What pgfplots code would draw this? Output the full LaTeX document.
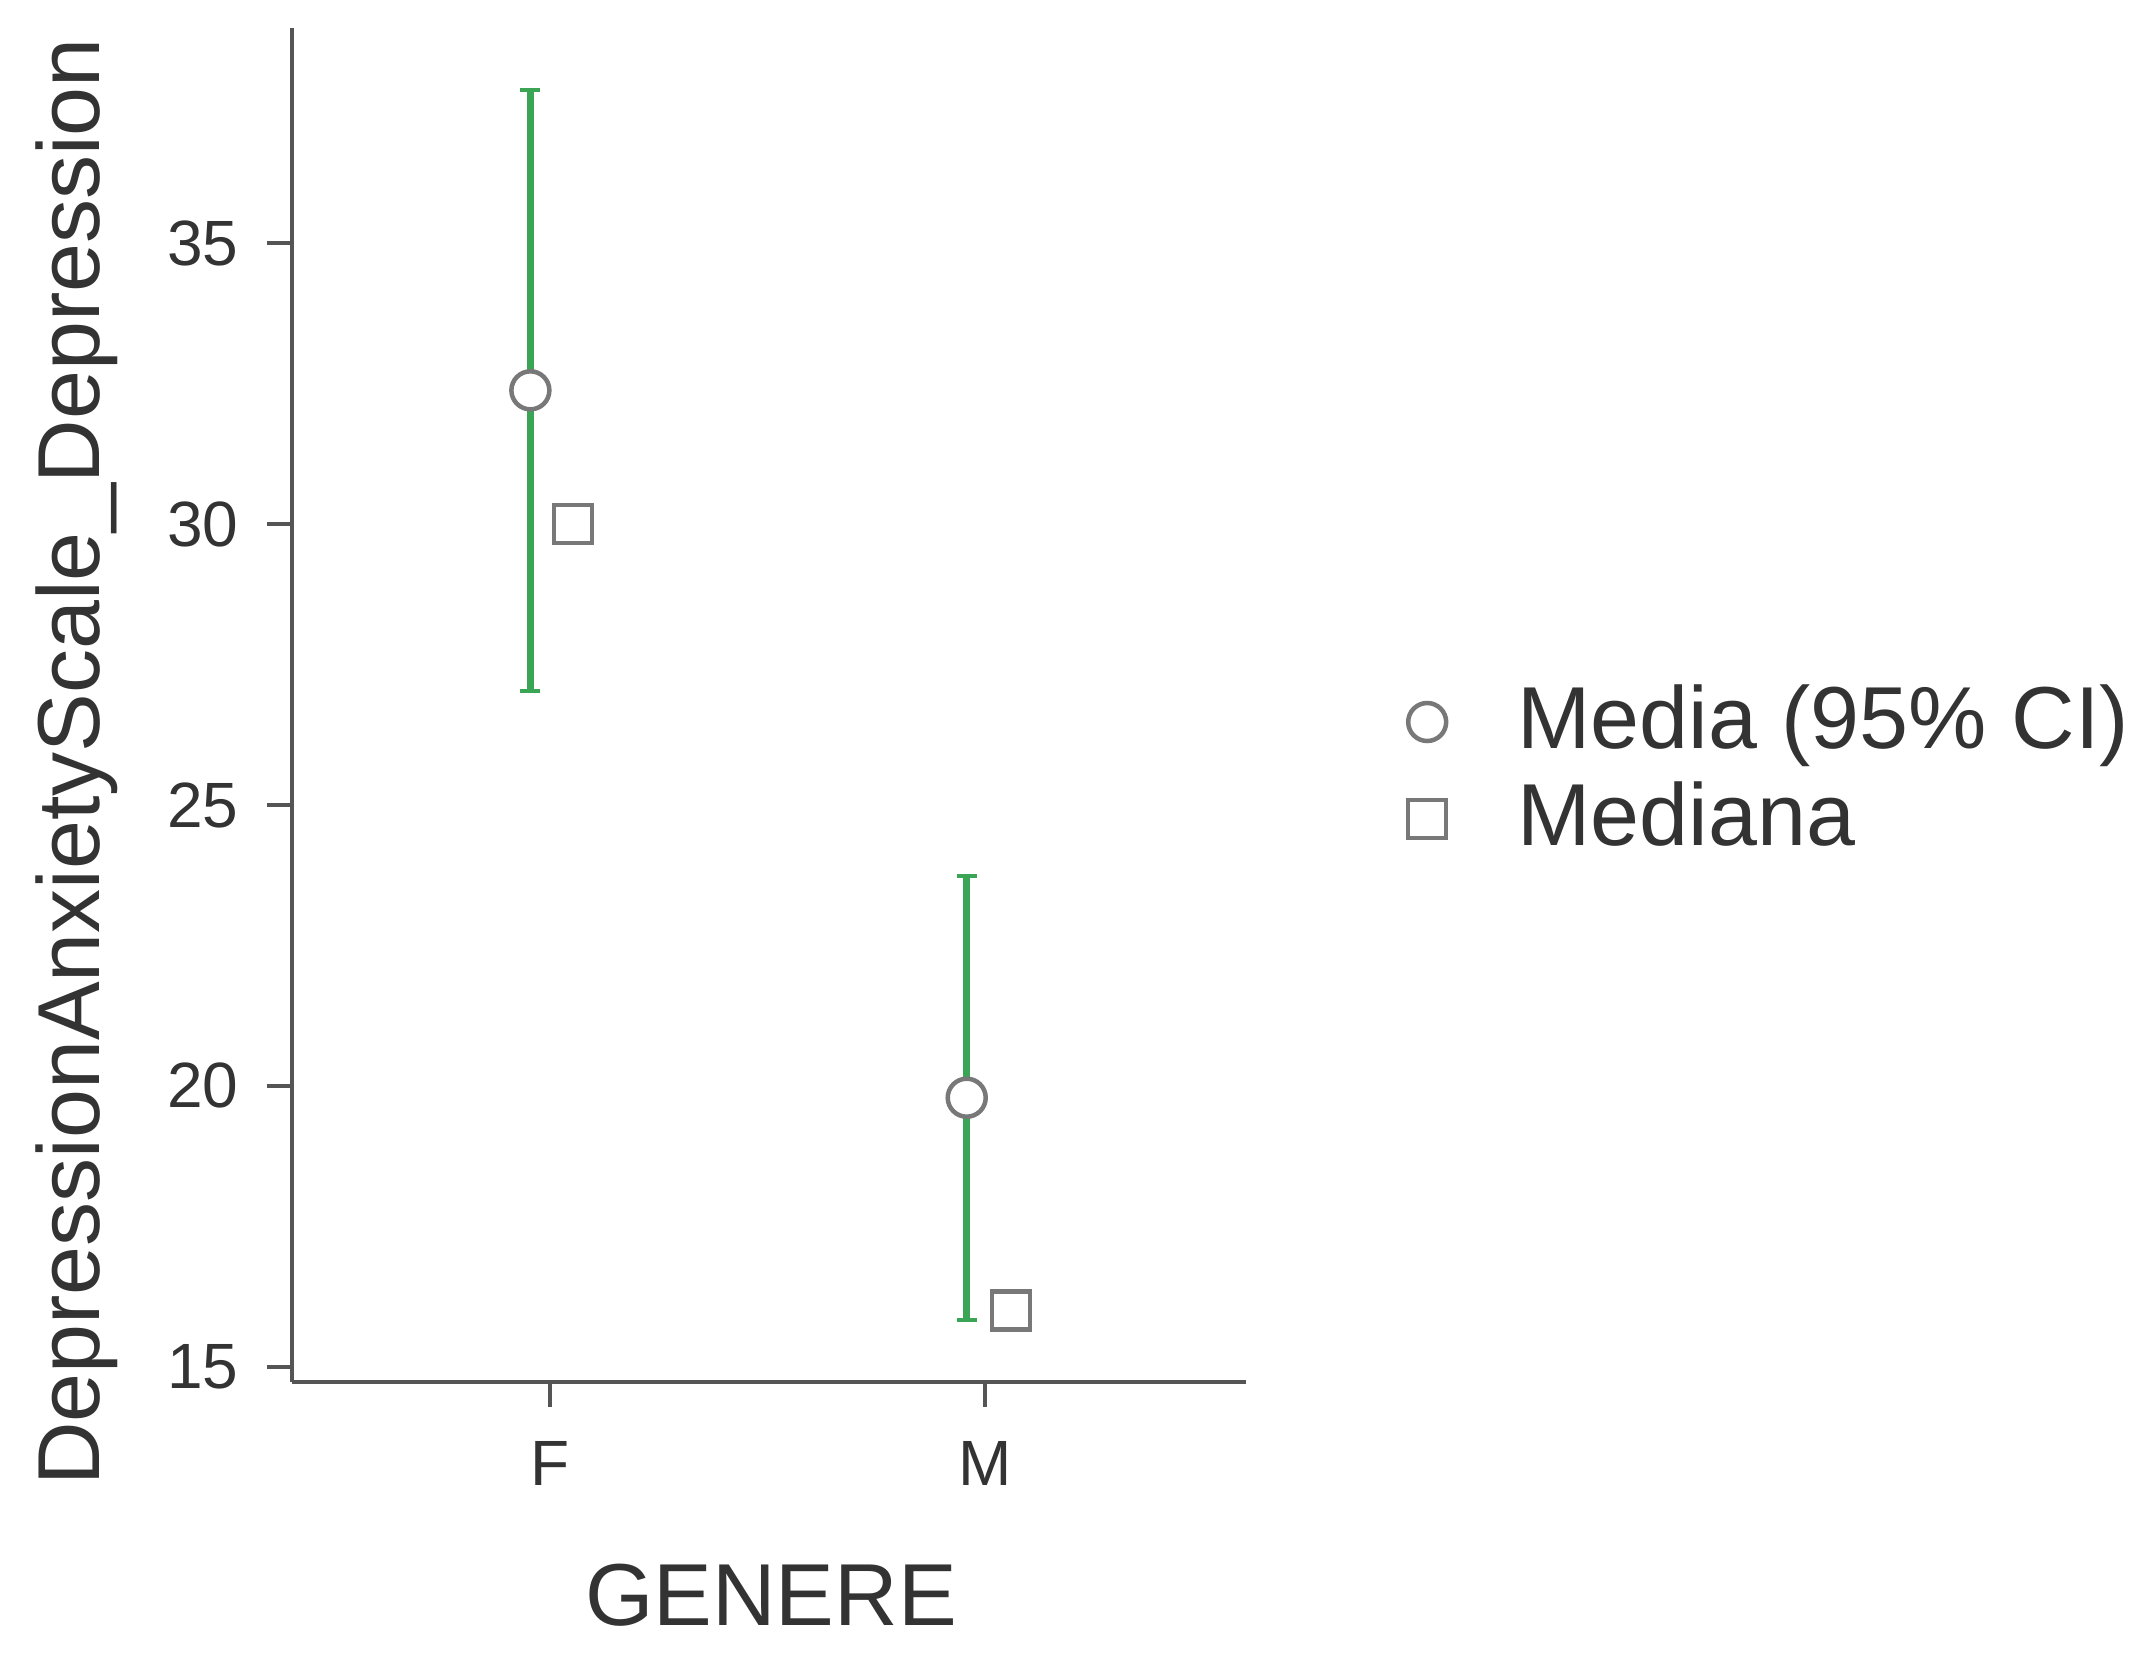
\documentclass[border=0pt]{standalone}
\usepackage{fontspec}
\setmainfont{Liberation Sans}
\usepackage{pgfplots}
\pgfplotsset{compat=1.18}
\definecolor{ciGreen}{RGB}{58,166,85}
\definecolor{axisGray}{RGB}{85,85,85}
\definecolor{markGray}{RGB}{120,120,120}
\definecolor{txtGray}{RGB}{51,51,51}
\pgfplotsset{onemark legend/.style={legend image code/.code={\draw[##1] plot coordinates {(0pt,0pt)};}}}

\begin{document}
\begin{tikzpicture}
\useasboundingbox (-58.4pt,-54.4pt) rectangle (372pt,276.4pt);
\begin{axis}[
    anchor=origin, at={(0pt,0pt)},
    width=190.8pt, height=270.8pt, scale only axis,
    axis lines=left,
    axis line style={-, axisGray, line width=0.8pt},
    xmin=0.407, xmax=2.6, ymin=14.73, ymax=38.83,
    xtick={1,2}, xticklabels={F,M},
    ytick={15,20,25,30,35},
    tick align=outside, major tick length=5pt,
    tick style={axisGray, line width=0.8pt},
    clip=false,
    /pgf/number format/assume math mode=true,
    tick label style={font=\fontsize{12.8}{15}\selectfont, text=txtGray},
    xticklabel style={yshift=-3.3pt},
    yticklabel style={xshift=-2.2pt},
    label style={font=\fontsize{17.6}{20}\selectfont, text=txtGray},
    xlabel={GENERE},
    ylabel={DepressionAnxietyScale\_Depression},
    xlabel style={at={(axis description cs:0.502,-0.1802)}, anchor=base},
    ylabel style={at={(axis description cs:-0.2013,0.458)}, anchor=base},
    legend cell align=left,
    legend style={at={(axis description cs:1.170,0.4516)}, anchor=west,
        draw=none, fill=none, inner sep=0pt, outer sep=0pt,
        font=\fontsize{17.6}{20}\selectfont, text=txtGray,
        row sep=1.8pt, column sep=14.3pt,
        nodes={inner sep=0pt, text height=14pt, text depth=3.6pt}},
]
% 95% CI of the mean
\addplot[only marks, mark=none, forget plot,
    error bars/.cd, y dir=both, y explicit,
    error bar style={draw=ciGreen, line width=1.3pt},
    error mark=|,
    error mark options={draw=ciGreen, line width=0.8pt, mark size=2pt}]
    coordinates {
        (0.955,32.38) +- (0,5.35)
        (1.958,19.79) +- (0,3.95)
    };
% mean
\addplot[only marks, mark=*, mark size=3.8pt,
    mark options={fill=white, draw=markGray, line width=0.9pt},
    onemark legend]
    coordinates {(0.955,32.38) (1.958,19.79)};
\addlegendentry{Media (95\% CI)}
% median
\addplot[only marks, mark=square*, mark size=3.8pt,
    mark options={fill=white, draw=markGray, line width=0.9pt},
    onemark legend]
    coordinates {(1.053,30.0) (2.06,16.0)};
\addlegendentry{Mediana}
\end{axis}
\end{tikzpicture}
\end{document}
